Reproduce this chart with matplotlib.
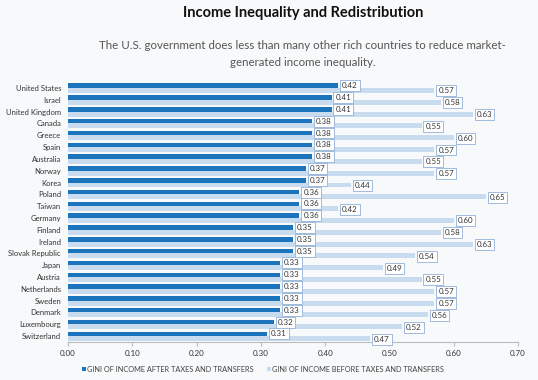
import matplotlib.pyplot as plt

plt.rcParams['font.family'] = ['Lato', 'DejaVu Sans']

countries = ['United States', 'Israel', 'United Kingdom', 'Canada', 'Greece', 'Spain',
             'Australia', 'Norway', 'Korea', 'Poland', 'Taiwan', 'Germany', 'Finland',
             'Ireland', 'Slovak Republic', 'Japan', 'Austria', 'Netherlands', 'Sweden',
             'Denmark', 'Luxembourg', 'Switzerland']
gini_after = [0.42, 0.41, 0.41, 0.38, 0.38, 0.38, 0.38, 0.37, 0.37, 0.36, 0.36, 0.36,
              0.35, 0.35, 0.35, 0.33, 0.33, 0.33, 0.33, 0.33, 0.32, 0.31]
gini_before = [0.57, 0.58, 0.63, 0.55, 0.60, 0.57, 0.55, 0.57, 0.44, 0.65, 0.42, 0.60,
               0.58, 0.63, 0.54, 0.49, 0.55, 0.57, 0.57, 0.56, 0.52, 0.47]

dark = '#1c75bc'
light = '#c9dbef'
bg = '#f8f9fa'

fig = plt.figure(figsize=(5.38, 3.8), dpi=100, facecolor=bg)
ax = fig.add_axes([0.1264, 0.10, 0.8364, 0.684], facecolor=bg)

pos = list(range(len(countries)))
ax.barh([p - 0.19 for p in pos], gini_after, height=0.38, color=dark,
        label='GINI OF INCOME AFTER TAXES AND TRANSFERS')
ax.barh([p + 0.21 for p in pos], gini_before, height=0.42, color=light,
        label='GINI OF INCOME BEFORE TAXES AND TRANSFERS')

box = dict(boxstyle='square,pad=0.25', facecolor='white', edgecolor='#9fbadb', linewidth=0.7)
for p, a, b in zip(pos, gini_after, gini_before):
    ax.text(a + 0.006, p - 0.19, f'{a:.2f}', ha='left', va='center', fontsize=5.7,
            color='#333333', bbox=box)
    ax.text(b + 0.006, p + 0.25, f'{b:.2f}', ha='left', va='center', fontsize=5.7,
            color='#333333', bbox=box)

ax.set_ylim(len(countries) - 0.5, -0.5)
ax.set_yticks(pos)
ax.set_yticklabels(countries, fontsize=5.5, color='#333333')
ax.tick_params(axis='y', length=0, pad=5)
ax.set_xlim(0, 0.70)
ax.set_xticks([i / 10 for i in range(8)])
ax.set_xticklabels([f'{i / 10:.2f}' for i in range(8)], fontsize=5.8, color='#333333')
ax.tick_params(axis='x', length=3, color='#bbbbbb', pad=3)
for s in ['top', 'right', 'left']:
    ax.spines[s].set_visible(False)
ax.spines['bottom'].set_color('#bbbbbb')

fig.text(0.563, 0.967, 'Income Inequality and Redistribution', ha='center', va='center',
         fontsize=10.5, fontweight='bold', color='#111111')
fig.text(0.562, 0.857, 'The U.S. government does less than many other rich countries to reduce market-\ngenerated income inequality.',
         ha='center', va='center', fontsize=8.3, color='#555555', linespacing=1.7)

fig.legend(loc='center', bbox_to_anchor=(0.489, 0.028), ncol=2, frameon=False, fontsize=5.3,
           handlelength=0.55, handleheight=0.55, handletextpad=0.15, columnspacing=1.8,
           labelcolor='#444444')

fig.savefig('out.png', dpi=100, facecolor=bg)
